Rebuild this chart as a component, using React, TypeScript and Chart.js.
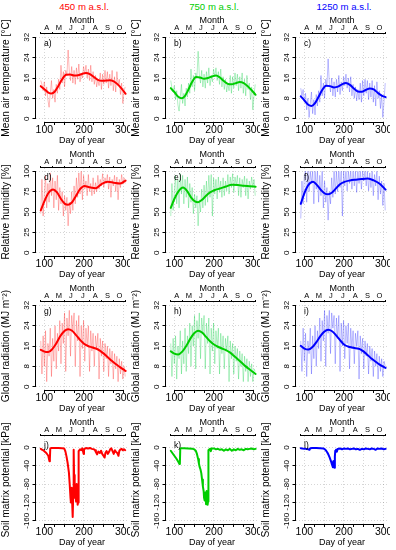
import React, { useEffect, useRef } from "react";
import { Chart, registerables } from "chart.js";

Chart.register(...registerables);

const FONT = '"Liberation Sans", Arial, Helvetica, sans-serif';
Chart.defaults.font.family = FONT;

// ---------- axis / category data ----------
const MONTH_BOUNDS = [91, 121, 152, 182, 213, 244, 274, 305];
const MONTH_LETTERS = ["A", "M", "J", "J", "A", "S", "O"];
const DAY_TICKS = [100, 125, 150, 175, 200, 225, 250, 275, 300];
const DAY_LABELS = [100, 200, 300];
const TEMP_TICKS = [0, 8, 16, 24, 32];
const RH_TICKS = [0, 25, 50, 75, 100];
const RAD_TICKS = [0, 8, 16, 24, 32];
const SOIL_TICKS = [0, -40, -80, -120, -160];
const X_MIN = 79;
const X_MAX = 311;

// ---------- observation days (every 3rd day) ----------
const DAYS = [91, 94, 97, 100, 103, 106, 109, 112, 115, 118, 121, 124, 127, 130, 133, 136, 139, 142, 145, 148, 151, 154, 157, 160, 163, 166, 169, 172, 175, 178, 181, 184, 187, 190, 193, 196, 199, 202, 205, 208, 211, 214, 217, 220, 223, 226, 229, 232, 235, 238, 241, 244, 247, 250, 253, 256, 259, 262, 265, 268, 271, 274, 277, 280, 283, 286, 289, 292, 295, 298, 301, 304];

// ---------- air temperature ----------
const TEMP_450 = [15.0, 13.5, 11.0, 14.5, 9.0, 12.5, 7.5, 4.5, 10.0, 15.0, 8.0, 11.5, 6.5, 13.5, 10.0, 15.5, 11.5, 21.0, 14.0, 18.5, 12.5, 19.0, 17.0, 27.0, 18.5, 15.0, 20.5, 14.0, 19.0, 13.5, 20.0, 15.5, 21.5, 14.5, 18.0, 16.0, 20.5, 17.5, 21.0, 16.0, 19.5, 15.0, 21.0, 14.5, 18.5, 13.5, 17.0, 12.5, 15.5, 13.0, 18.0, 11.5, 17.5, 13.5, 19.0, 14.0, 18.5, 12.0, 17.5, 13.0, 19.0, 11.0, 16.5, 10.5, 18.5, 13.0, 15.5, 9.5, 14.0, 6.0, 11.0, 12.5];
const TEMP_750 = [15.0, 12.0, 10.5, 13.0, 7.5, 11.0, 5.5, 3.0, 8.5, 13.5, 6.0, 10.0, 5.0, 12.0, 8.5, 14.0, 10.0, 19.5, 12.5, 17.0, 11.0, 18.0, 16.0, 26.5, 17.5, 14.0, 19.0, 12.5, 17.5, 12.0, 18.5, 14.0, 20.0, 13.0, 17.0, 14.5, 19.5, 16.5, 20.0, 15.0, 18.5, 13.5, 19.5, 12.5, 16.5, 11.5, 15.5, 10.5, 14.0, 11.0, 17.0, 10.0, 16.5, 12.0, 18.0, 13.0, 17.5, 11.0, 16.5, 12.0, 18.0, 10.0, 15.5, 9.0, 17.0, 11.5, 14.0, 7.5, 12.5, 3.5, 9.5, 13.5];
const TEMP_1250 = [12.0, 9.0, 11.5, 6.5, 10.0, 3.5, 8.0, 0.5, 6.0, 10.5, 2.0, 7.5, 1.5, 9.5, 5.0, 11.0, 6.5, 17.0, 9.0, 14.0, 8.0, 15.5, 12.5, 23.5, 14.0, 10.5, 16.0, 9.0, 14.5, 8.5, 15.5, 10.5, 17.0, 9.5, 14.5, 11.0, 16.5, 13.0, 17.5, 12.0, 16.0, 10.5, 16.5, 9.0, 13.5, 8.0, 12.5, 7.0, 11.5, 7.5, 14.0, 6.5, 15.0, 9.0, 15.5, 10.0, 15.0, 7.5, 14.0, 8.5, 15.0, 6.5, 13.0, 5.0, 14.5, 8.0, 11.0, 4.0, 9.5, 0.5, 7.0, 14.0];
const TEMP_SMOOTH_DAYS = [91, 100, 110, 118, 126, 135, 145, 155, 165, 175, 185, 195, 205, 215, 225, 235, 245, 255, 265, 275, 285, 295, 305];
const TEMP_SMOOTH_450 = [12.8, 11.6, 10.3, 9.9, 10.6, 12.8, 15.5, 17.3, 17.4, 17.0, 17.1, 17.6, 18.0, 17.5, 16.4, 15.3, 14.9, 15.0, 15.1, 14.7, 13.5, 11.8, 9.8];
const TEMP_SMOOTH_750 = [12.0, 10.5, 8.6, 8.0, 8.8, 11.3, 14.5, 16.4, 16.2, 15.7, 16.0, 16.6, 17.0, 16.2, 14.8, 13.7, 13.5, 14.0, 14.4, 14.0, 12.8, 11.2, 9.4];
const TEMP_SMOOTH_1250 = [8.8, 7.2, 5.5, 5.0, 5.9, 8.3, 11.3, 13.0, 12.8, 12.3, 12.6, 13.5, 14.0, 13.3, 11.9, 10.7, 10.6, 11.3, 11.9, 11.5, 10.2, 9.1, 8.5];

// ---------- relative humidity ----------
const RH_450 = [48, 90, 45, 72, 95, 55, 85, 62, 98, 70, 92, 55, 88, 65, 95, 52, 80, 60, 75, 45, 70, 52, 68, 33, 62, 48, 75, 52, 82, 60, 92, 68, 98, 72, 100, 65, 95, 78, 88, 70, 96, 75, 85, 70, 92, 72, 86, 75, 95, 78, 90, 82, 97, 80, 92, 85, 96, 78, 93, 68, 90, 82, 95, 75, 93, 65, 90, 80, 96, 84, 92, 85];
const RH_750 = [45, 85, 52, 75, 95, 60, 90, 55, 97, 72, 95, 60, 90, 68, 93, 55, 85, 62, 80, 48, 72, 55, 70, 33, 65, 50, 78, 55, 83, 58, 88, 62, 95, 68, 96, 45, 92, 72, 90, 66, 93, 74, 88, 68, 92, 70, 88, 76, 96, 72, 93, 80, 97, 74, 93, 82, 95, 70, 92, 68, 90, 80, 94, 70, 91, 66, 88, 78, 93, 80, 90, 70];
const RH_1250 = [42, 88, 60, 95, 100, 62, 100, 75, 100, 85, 100, 60, 100, 78, 100, 62, 95, 70, 100, 55, 88, 62, 80, 40, 75, 60, 92, 68, 100, 72, 100, 75, 100, 80, 100, 45, 100, 82, 100, 76, 100, 85, 100, 78, 100, 82, 100, 74, 100, 85, 100, 78, 100, 88, 100, 82, 100, 76, 98, 80, 100, 70, 96, 82, 100, 65, 94, 72, 88, 58, 85, 52];
const RH_SMOOTH_DAYS = [91, 100, 110, 122, 132, 142, 152, 160, 170, 180, 190, 201, 215, 230, 245, 260, 275, 290, 305];
const RH_SMOOTH_450 = [52, 63, 73, 77.5, 74, 66, 60, 59, 62, 70, 78, 82, 80.3, 79.3, 84.5, 87, 86, 85, 88.5];
const RH_SMOOTH_750 = [55, 66, 75, 80, 76, 68, 63, 62, 65, 70, 74, 76.7, 78.8, 81.2, 83.3, 83, 82.2, 81.5, 81];
const RH_SMOOTH_1250 = [60, 73, 83, 87, 83, 77, 72.5, 71.7, 74, 79, 84, 87, 88.7, 89.7, 90.5, 91, 88.8, 84.6, 77.5];

// ---------- global radiation ----------
const RAD_450 = [18, 5, 20, 8, 22, 2, 17, 12, 23, 4, 19, 10, 24, 7, 21, 14, 26, 9, 25, 17, 29, 6, 27, 20, 30, 12, 28, 22, 29, 8, 26, 18, 28, 4, 24, 15, 26, 10, 23, 16, 24, 6, 22, 14, 21, 8, 20, 15, 21, 3, 19, 12, 18, 6, 17, 11, 16, 4, 15, 9, 14, 3, 13, 7, 12, 2, 11, 5, 10, 3, 8, 4];
const RAD_750 = [17, 4, 19, 9, 20, 3, 16, 11, 22, 5, 18, 9, 23, 6, 20, 13, 25, 8, 24, 16, 28, 7, 26, 19, 29, 11, 27, 21, 28, 7, 25, 17, 27, 5, 23, 14, 25, 9, 22, 15, 23, 5, 21, 13, 20, 7, 19, 14, 20, 2, 18, 11, 17, 5, 16, 10, 15, 3, 14, 8, 13, 2, 12, 6, 11, 2, 10, 4, 9, 2, 7, 6];
const RAD_1250 = [18, 6, 23, 10, 21, 4, 18, 13, 23, 5, 20, 11, 24, 8, 22, 15, 27, 10, 26, 18, 30, 8, 28, 21, 30, 13, 29, 23, 28, 9, 27, 19, 28, 6, 25, 16, 26, 11, 24, 17, 25, 7, 23, 15, 22, 9, 21, 16, 22, 3, 20, 13, 19, 7, 18, 12, 17, 5, 16, 10, 15, 4, 14, 8, 13, 3, 12, 6, 11, 4, 10, 8];
const RAD_SMOOTH_DAYS = [91, 100, 110, 120, 130, 140, 150, 160, 170, 180, 190, 200, 210, 220, 230, 240, 250, 260, 270, 280, 290, 300, 305];
const RAD_SMOOTH_450 = [14.5, 13.8, 13.6, 14.8, 17.0, 19.8, 21.8, 22.6, 22.0, 20.3, 18.4, 16.9, 16.0, 15.5, 15.0, 14.2, 13.0, 11.6, 10.2, 8.9, 7.8, 6.7, 6.2];
const RAD_SMOOTH_750 = [13.9, 13.0, 12.7, 13.8, 16.0, 18.8, 21.0, 22.0, 21.3, 19.6, 17.9, 16.6, 15.7, 15.0, 14.4, 13.5, 12.2, 10.8, 9.4, 8.0, 6.8, 5.6, 5.0];
const RAD_SMOOTH_1250 = [16.1, 15.0, 14.6, 15.5, 17.4, 19.8, 21.6, 22.4, 21.8, 20.2, 18.3, 16.6, 15.8, 15.4, 15.1, 14.8, 13.8, 12.4, 11.0, 9.8, 8.7, 7.8, 7.4];

// ---------- soil matrix potential ----------
const SOIL_450_DAYS = [91, 95, 100, 105, 110, 113, 114, 115, 118, 125, 135, 145, 150, 153, 156, 159, 162, 164, 166, 167, 168, 169, 170, 171, 172, 173, 174, 175, 176, 177, 178, 179, 180, 181, 182, 183, 184, 185, 186, 187, 190, 193, 196, 199, 200, 205, 210, 215, 220, 225, 228, 230, 233, 236, 240, 243, 246, 249, 252, 254, 257, 260, 263, 266, 269, 272, 275, 278, 281, 284, 287, 289, 292, 295, 298, 301, 304];
const SOIL_450 = [-3, -5, -8, -12, -18, -30, -25, -2, -1, -1, -1, -1.5, -2, -8, -20, -35, -55, -80, -110, -120, -95, -88, -115, -140, -152, -100, -5, -60, -100, -110, -88, -95, -118, -85, -80, -100, -125, -120, -50, -8, -4, -6, -2, -14, -4, -1, -2, -1, -3, -4, -6, -10, -15, -9, -12, -7, -14, -18, -22, -12, -8, -14, -10, -4, -2, -8, -14, -6, -10, -12, -18, -8, -4, -3, -6, -4, -6];
const SOIL_750_DAYS = [91, 95, 100, 105, 110, 113, 114, 115, 118, 125, 135, 145, 150, 154, 157, 160, 162, 164, 166, 168, 170, 172, 174, 175, 176, 177, 178, 179, 180, 181, 182, 183, 184, 185, 186, 188, 190, 192, 194, 200, 205, 210, 215, 220, 225, 230, 235, 240, 245, 250, 255, 260, 265, 270, 275, 280, 285, 290, 295, 300, 305];
const SOIL_750 = [-7, -12, -18, -24, -31, -36, -35, -2, -1.5, -1.5, -2, -2.5, -4, -7, -14, -25, -35, -43, -48, -56, -70, -85, -96, -110, -116, -100, -112, -98, -124, -105, -95, -110, -125, -118, -6, -4, -3, -8, -2, -2, -4, -3, -5, -4, -7, -4, -6, -3, -7, -4, -6, -3, -5, -4, -6, -3, -4, -3, -2, -4, -3];
const SOIL_1250_DAYS = [91, 95, 100, 105, 110, 113, 115, 120, 130, 140, 148, 152, 155, 158, 161, 164, 166, 168, 170, 172, 173, 174, 176, 177, 178, 179, 180, 182, 184, 190, 195, 200, 205, 210, 215, 220, 225, 230, 235, 240, 245, 250, 255, 260, 265, 270, 275, 280, 285, 290, 295, 300, 305];
const SOIL_1250 = [-1.5, -2, -2.5, -3, -4, -5, -1.5, -1, -1, -1.5, -2, -4, -7, -11, -16, -22, -27, -32, -38, -43, -30, -42, -44, -20, -7, -10, -5, -9, -3, -2, -4, -2, -3, -2, -4, -3, -2, -4, -3, -5, -3, -4, -2, -3, -4, -2, -3, -5, -2, -3, -2, -4, -3];

// ---------- styling ----------
const COLS = [
  { title: "450 m a.s.l.", main: "#FF0000", light: "rgba(255,0,0,0.28)" },
  { title: "750 m a.s.l.", main: "#00CD00", light: "rgba(0,205,60,0.3)" },
  { title: "1250 m a.s.l.", main: "#0000FF", light: "rgba(0,0,255,0.26)" },
];
const ROWS = [
  { yTitle: "Mean air temperature [°C]", yTicks: TEMP_TICKS, lo: 0, hi: 32 },
  { yTitle: "Relative humidity [%]", yTicks: RH_TICKS, lo: 0, hi: 100 },
  { yTitle: "Global radiation (MJ m\u207B\u00B2)", yTicks: RAD_TICKS, lo: 0, hi: 32 },
  { yTitle: "Soil matrix potential [kPa]", yTicks: SOIL_TICKS, lo: -160, hi: 18 },
];
const GRID = "rgba(0,0,0,0.16)";

const PANELS: any[] = [
  { letter: "a", row: 0, col: 0, raw: [DAYS, TEMP_450], smooth: [TEMP_SMOOTH_DAYS, TEMP_SMOOTH_450] },
  { letter: "b", row: 0, col: 1, raw: [DAYS, TEMP_750], smooth: [TEMP_SMOOTH_DAYS, TEMP_SMOOTH_750] },
  { letter: "c", row: 0, col: 2, raw: [DAYS, TEMP_1250], smooth: [TEMP_SMOOTH_DAYS, TEMP_SMOOTH_1250] },
  { letter: "d", row: 1, col: 0, raw: [DAYS, RH_450], smooth: [RH_SMOOTH_DAYS, RH_SMOOTH_450] },
  { letter: "e", row: 1, col: 1, raw: [DAYS, RH_750], smooth: [RH_SMOOTH_DAYS, RH_SMOOTH_750] },
  { letter: "f", row: 1, col: 2, raw: [DAYS, RH_1250], smooth: [RH_SMOOTH_DAYS, RH_SMOOTH_1250] },
  { letter: "g", row: 2, col: 0, raw: [DAYS, RAD_450], smooth: [RAD_SMOOTH_DAYS, RAD_SMOOTH_450] },
  { letter: "h", row: 2, col: 1, raw: [DAYS, RAD_750], smooth: [RAD_SMOOTH_DAYS, RAD_SMOOTH_750] },
  { letter: "i", row: 2, col: 2, raw: [DAYS, RAD_1250], smooth: [RAD_SMOOTH_DAYS, RAD_SMOOTH_1250] },
  { letter: "j", row: 3, col: 0, line: [SOIL_450_DAYS, SOIL_450] },
  { letter: "k", row: 3, col: 1, line: [SOIL_750_DAYS, SOIL_750] },
  { letter: "l", row: 3, col: 2, line: [SOIL_1250_DAYS, SOIL_1250] },
];

const MONTH_TICK_VALUES: number[] = [];
const MONTH_TICK_LABELS: string[] = [];
MONTH_BOUNDS.forEach((b, i) => {
  MONTH_TICK_VALUES.push(b);
  MONTH_TICK_LABELS.push("");
  if (i < MONTH_LETTERS.length) {
    MONTH_TICK_VALUES.push((b + MONTH_BOUNDS[i + 1]) / 2);
    MONTH_TICK_LABELS.push(MONTH_LETTERS[i]);
  }
});

const CW = 130;
const CH = 148;
const ROW_STEP = 134;

function pts(xs: number[], ys: number[]) {
  return xs.map((x, i) => ({ x, y: ys[i] }));
}

function decor(p: any) {
  const row = ROWS[p.row];
  return {
    id: "decor",
    afterDraw(chart: any) {
      const { ctx, chartArea: a, scales } = chart;
      const ys = scales.y, xs = scales.x, xt = scales.xTop;
      ctx.save();
      ctx.strokeStyle = "#000";
      ctx.lineWidth = 1;
      ctx.beginPath();
      const lx = Math.round(a.left) - 0.5;
      ctx.moveTo(lx, ys.getPixelForValue(row.yTicks[0]));
      ctx.lineTo(lx, ys.getPixelForValue(row.yTicks[row.yTicks.length - 1]));
      const by = Math.round(a.bottom) + 0.5;
      ctx.moveTo(xs.getPixelForValue(DAY_TICKS[0]), by);
      ctx.lineTo(xs.getPixelForValue(DAY_TICKS[DAY_TICKS.length - 1]), by);
      const ty = Math.round(a.top) - 0.5;
      ctx.moveTo(xt.getPixelForValue(MONTH_BOUNDS[0]), ty);
      ctx.lineTo(xt.getPixelForValue(MONTH_BOUNDS[MONTH_BOUNDS.length - 1]), ty);
      ctx.stroke();
      ctx.fillStyle = "#000";
      ctx.font = `8px ${FONT}`;
      ctx.textAlign = "center";
      ctx.textBaseline = "alphabetic";
      row.yTicks.forEach((v: number) => {
        ctx.save();
        ctx.translate(a.left - 7, ys.getPixelForValue(v));
        ctx.rotate(-Math.PI / 2);
        ctx.fillText(String(v), 0, 0);
        ctx.restore();
      });
      ctx.font = `8.5px ${FONT}`;
      ctx.textAlign = "left";
      ctx.textBaseline = "middle";
      ctx.fillText(p.letter + ")", a.left + 8, a.top + 9.5);
      ctx.restore();
    },
  };
}

function buildConfig(p: any): any {
  const row = ROWS[p.row];
  const col = COLS[p.col];
  const pad = 0.04 * (row.hi - row.lo);
  const datasets: any[] = [];
  if (p.smooth) {
    datasets.push({
      data: pts(p.smooth[0], p.smooth[1]),
      borderColor: col.main, borderWidth: 2, pointRadius: 0,
      cubicInterpolationMode: "monotone", order: 0, fill: false,
      borderJoinStyle: "round", borderCapStyle: "round",
    });
  }
  if (p.raw) {
    datasets.push({
      data: pts(p.raw[0], p.raw[1]),
      borderColor: col.light, borderWidth: 1, pointRadius: 0,
      tension: 0, order: 1, fill: false, borderJoinStyle: "round",
    });
  }
  if (p.line) {
    datasets.push({
      data: pts(p.line[0], p.line[1]),
      borderColor: col.main, borderWidth: 2, pointRadius: 0,
      tension: 0, order: 0, fill: false, borderJoinStyle: "round", borderCapStyle: "round",
    });
  }
  return {
    type: "line",
    data: { datasets },
    options: {
      animation: false,
      responsive: false,
      devicePixelRatio: 1,
      events: [],
      layout: { padding: { left: 0, right: 2, top: 0, bottom: 2 }, autoPadding: false },
      plugins: { legend: { display: false }, tooltip: { enabled: false }, title: { display: false } },
      scales: {
        x: {
          type: "linear", position: "bottom", min: X_MIN, max: X_MAX,
          afterBuildTicks: (s: any) => { s.ticks = DAY_TICKS.map((v) => ({ value: v })); },
          afterFit: (s: any) => { s.height = 24; s.paddingLeft = 0; s.paddingRight = 0; },
          ticks: {
            autoSkip: false, maxRotation: 0, minRotation: 0, padding: 0, color: "#000",
            font: { family: FONT, size: 10.5, lineHeight: 1 },
            callback: (v: any) => (DAY_LABELS.includes(v) ? String(v) : ""),
          },
          grid: {
            color: (c: any) => (c.tick && c.tick.value % 50 === 0 ? GRID : "rgba(0,0,0,0)"),
            tickColor: "#000", tickLength: 3, lineWidth: 1, tickWidth: 1,
          },
          border: { display: false, dash: [1, 2] },
          title: { display: true, text: "Day of year", color: "#000", font: { family: FONT, size: 9, lineHeight: 1.2 }, padding: 0 },
        },
        xTop: {
          type: "linear", axis: "x", position: "top", min: X_MIN, max: X_MAX,
          afterBuildTicks: (s: any) => { s.ticks = MONTH_TICK_VALUES.map((v) => ({ value: v })); },
          afterFit: (s: any) => { s.height = 34; s.paddingLeft = 0; s.paddingRight = 0; },
          ticks: {
            autoSkip: false, maxRotation: 0, minRotation: 0, padding: 0, color: "#000",
            font: { family: FONT, size: 7.5, lineHeight: 1 },
            callback: (_v: any, i: number) => MONTH_TICK_LABELS[i],
          },
          grid: {
            drawOnChartArea: false, tickLength: 2, tickWidth: 1,
            tickColor: (c: any) => (MONTH_TICK_LABELS[c.index] ? "rgba(0,0,0,0)" : "#000"),
          },
          border: { display: false },
          title: { display: true, text: "Month", color: "#000", font: { family: FONT, size: 9, lineHeight: 1.2 }, padding: { top: 15.6, bottom: 0 } },
        },
        y: {
          type: "linear", position: "left", min: row.lo - pad, max: row.hi + pad,
          afterBuildTicks: (s: any) => { s.ticks = row.yTicks.map((v) => ({ value: v })); },
          afterFit: (s: any) => { s.width = 36; s.paddingTop = 0; s.paddingBottom = 0; },
          ticks: { display: false },
          grid: { color: GRID, tickColor: "#000", tickLength: 3.5, lineWidth: 1, tickWidth: 1 },
          border: { display: false, dash: [1, 2] },
          title: { display: true, text: row.yTitle, color: "#000", font: { family: FONT, size: 10.2, lineHeight: 1.2 }, padding: { top: 0, bottom: 0 } },
        },
      },
    },
    plugins: [decor(p)],
  };
}

function PanelChart({ p }: { p: any }) {
  const ref = useRef<HTMLCanvasElement | null>(null);
  useEffect(() => {
    if (!ref.current) return;
    const chart = new Chart(ref.current, buildConfig(p));
    return () => chart.destroy();
  }, [p]);
  return (
    <canvas
      ref={ref}
      width={CW}
      height={CH}
      style={{ position: "absolute", left: p.col * CW, top: p.row * ROW_STEP, width: CW, height: CH }}
    />
  );
}

export default function App() {
  return (
    <div style={{ position: "fixed", left: 0, top: 0, width: 396, height: 550, background: "#fff", overflow: "hidden", fontFamily: FONT }}>
      {COLS.map((c, i) => (
        <div
          key={c.title}
          style={{ position: "absolute", left: i * CW + 36, top: 0, width: 96, textAlign: "center", fontSize: 9.6, lineHeight: "14px", color: c.main, whiteSpace: "nowrap" }}
        >
          {c.title}
        </div>
      ))}
      {PANELS.map((p) => (
        <PanelChart key={p.letter} p={p} />
      ))}
    </div>
  );
}
